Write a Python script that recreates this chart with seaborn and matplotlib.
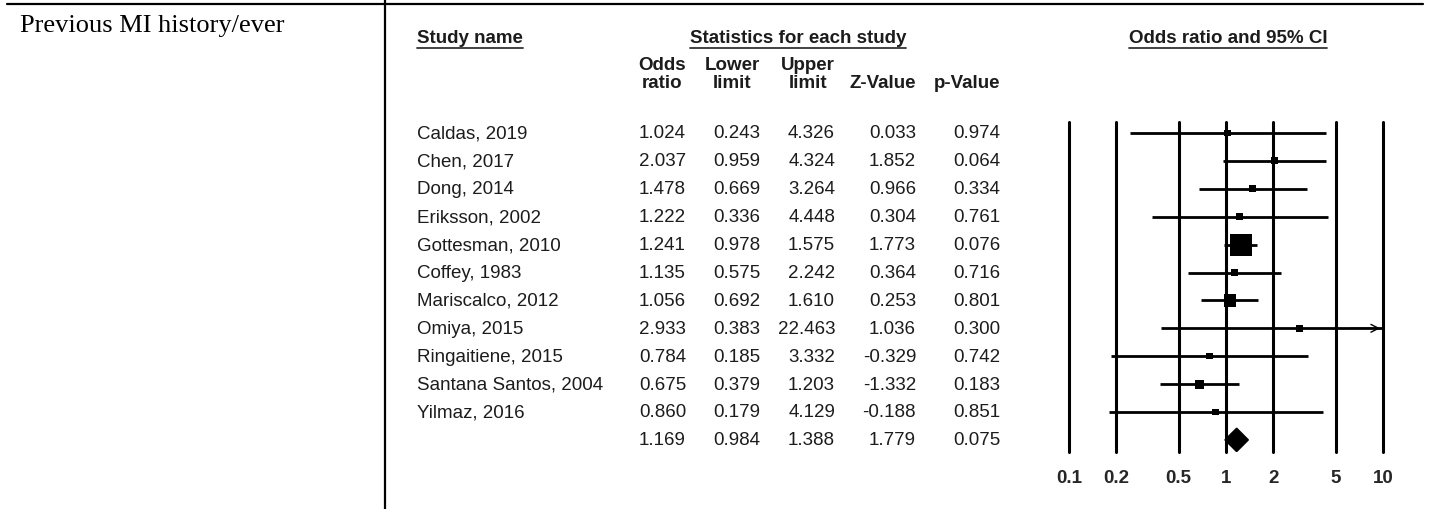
import numpy as np
import pandas as pd
import seaborn as sns
import matplotlib.pyplot as plt
from matplotlib.lines import Line2D
from matplotlib.transforms import blended_transform_factory

# data
studies = ['Caldas, 2019', 'Chen, 2017', 'Dong, 2014', 'Eriksson, 2002',
           'Gottesman, 2010', 'Coffey, 1983', 'Mariscalco, 2012', 'Omiya, 2015',
           'Ringaitiene, 2015', 'Santana Santos, 2004', 'Yilmaz, 2016']
odds_ratio = [1.024, 2.037, 1.478, 1.222, 1.241, 1.135, 1.056, 2.933, 0.784, 0.675, 0.860]
lower_limit = [0.243, 0.959, 0.669, 0.336, 0.978, 0.575, 0.692, 0.383, 0.185, 0.379, 0.179]
upper_limit = [4.326, 4.324, 3.264, 4.448, 1.575, 2.242, 1.610, 22.463, 3.332, 1.203, 4.129]
z_value = [0.033, 1.852, 0.966, 0.304, 1.773, 0.364, 0.253, 1.036, -0.329, -1.332, -0.188]
p_value = [0.974, 0.064, 0.334, 0.761, 0.076, 0.716, 0.801, 0.300, 0.742, 0.183, 0.851]
summary = dict(odds_ratio=1.169, lower=0.984, upper=1.388, z=1.779, p=0.075)
ticks = [0.1, 0.2, 0.5, 1, 2, 5, 10]
tick_labels = ['0.1', '0.2', '0.5', '1', '2', '5', '10']
row_label = 'Previous MI history/ever'

W, H = 1434, 510
TXT = '#1c1c1c'

df = pd.DataFrame({'study': studies, 'or': odds_ratio, 'lo': lower_limit,
                   'hi': upper_limit, 'z': z_value, 'p': p_value})
df['row'] = np.arange(len(df))
# inverse variance weights -> box area
se = (np.log(df['hi']) - np.log(df['lo'])) / 3.92
df['w'] = 1 / se**2
side_px = np.maximum(22 * np.sqrt(df['w'] / df['w'].max()), 6.5)
df['area'] = (side_px / 100 * 72) ** 2
sum_row = len(df)

sns.set_style('white')
plt.rcParams['font.family'] = ['Liberation Sans', 'DejaVu Sans']

fig = plt.figure(figsize=(W / 100, H / 100), dpi=100)

# forest axes: x 0.1..10 -> px 1069..1383, y px 123..453
x0, x1, ytop, ybot = 1069, 1383, 123, 453
row0, rowstep = 134, 27.9
ax = fig.add_axes([x0 / W, 1 - ybot / H, (x1 - x0) / W, (ybot - ytop) / H])
ax.set_xscale('log')
ax.set_xlim(0.1, 10)
ax.set_ylim((ybot - row0) / rowstep, (ytop - row0) / rowstep)
for s in ax.spines.values():
    s.set_visible(False)
ax.set_yticks([])

for t in ticks:
    ax.axvline(t, color='black', lw=2.2, clip_on=False, zorder=1)

ax.hlines(df['row'], df['lo'], df['hi'], color='black', lw=2, zorder=2)
sns.scatterplot(data=df, x='or', y='row', marker='s', s=df['area'], color='black',
                linewidth=0, legend=False, ax=ax, zorder=3)
# arrow for CI beyond the axis
for _, r in df[df['hi'] > 10].iterrows():
    ax.annotate('', xy=(10, r['row']), xytext=(6, r['row']),
                arrowprops=dict(arrowstyle='->', lw=1, color='black', mutation_scale=14),
                annotation_clip=False)
# summary diamond
h = 0.42
ax.fill([summary['lower'], summary['odds_ratio'], summary['upper'], summary['odds_ratio']],
        [sum_row, sum_row - h, sum_row, sum_row + h], color='black', zorder=3)

ax.set_xticks(ticks, tick_labels)
ax.minorticks_off()
ax.tick_params(axis='x', length=0, pad=12, labelsize=13.5)
for lab in ax.get_xticklabels():
    lab.set_fontweight('bold')
ax.set_xlabel('')
ax.set_ylabel('')

# table text, y in data rows
tr = blended_transform_factory(fig.transFigure, ax.transData)
cols = [686, 760, 835, 916, 1000]
fs = 13.5
for _, r in df.iterrows():
    ax.text(417 / W, r['row'], r['study'], transform=tr, ha='left', va='center',
            fontsize=fs, color=TXT)
    vals = [r['or'], r['lo'], r['hi'], r['z'], r['p']]
    for cx, v in zip(cols, vals):
        ax.text(cx / W, r['row'], f'{v:.3f}', transform=tr, ha='right', va='center',
                fontsize=fs, color=TXT)
for cx, v in zip(cols, [summary['odds_ratio'], summary['lower'], summary['upper'],
                        summary['z'], summary['p']]):
    ax.text(cx / W, sum_row, f'{v:.3f}', transform=tr, ha='right', va='center',
            fontsize=fs, color=TXT)


def px(x, y):
    return x / W, 1 - y / H


# headers
heads = [(470, 'Study name'), (798, 'Statistics for each study'),
         (1228, 'Odds ratio and 95% CI')]
head_txt = []
for hx, s in heads:
    head_txt.append(fig.text(*px(hx, 39), s, ha='center', va='center', fontsize=fs,
                             fontweight='bold', color=TXT))
col_heads = ['Odds\nratio', 'Lower\nlimit', 'Upper\nlimit', 'Z-Value', 'p-Value']
for cx, s in zip(cols, col_heads):
    fig.text(*px(cx, 92), s, ha='right', va='bottom', fontsize=fs, fontweight='bold',
             color=TXT, multialignment='center', linespacing=1.1)

fig.text(*px(20, 26), row_label, ha='left', va='center', fontsize=19,
         family='Liberation Serif', color='black')

# underlines for headers
fig.canvas.draw()
rend = fig.canvas.get_renderer()
for t in head_txt:
    bb = t.get_window_extent(rend)
    fig.add_artist(Line2D([bb.x0 / W, bb.x1 / W], [px(0, 49)[1]] * 2, color='#333333', lw=1.3))

# frame lines of the surrounding table
fig.add_artist(Line2D([7 / W, 1423 / W], [px(0, 5)[1]] * 2, color='black', lw=1.6))
fig.add_artist(Line2D([385 / W, 385 / W], [0, 1], color='black', lw=1.6))

fig.savefig('out.png', dpi=100, facecolor='white')
